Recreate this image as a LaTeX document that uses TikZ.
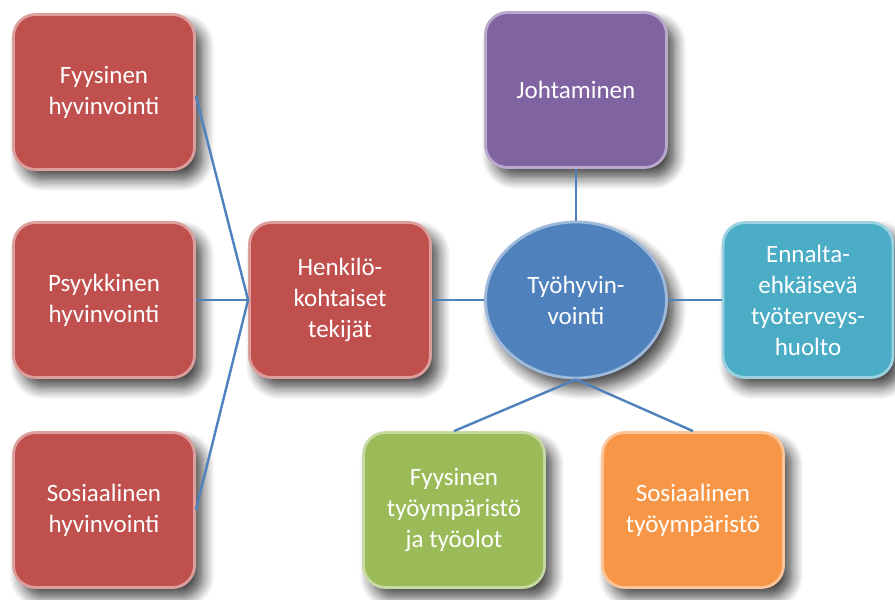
\documentclass[tikz,border=0pt]{standalone}
\usepackage{fontspec}
\setmainfont{Carlito}
\usetikzlibrary{shapes.geometric,shadows.blur}

\definecolor{punainen}{HTML}{C0504D}
\definecolor{violetti}{HTML}{8064A2}
\definecolor{sininen}{HTML}{4F81BD}
\definecolor{turkoosi}{HTML}{4BACC6}
\definecolor{vihrea}{HTML}{9BBB59}
\definecolor{oranssi}{HTML}{F79646}

\begin{document}
\begin{tikzpicture}[x=0.5pt,y=-0.5pt,
    laatikko/.style={rectangle,rounded corners=11pt,fill=#1,draw=#1!55!white,line width=1.4pt,
      minimum width=90.5pt,minimum height=77.5pt,inner sep=2pt,align=center,text=white,
      font=\fontsize{12.5}{15.5}\selectfont,
      blur shadow={shadow xshift=4pt,shadow yshift=-5pt,shadow blur steps=10,shadow blur radius=6pt,shadow opacity=75}},
    pallo/.style={ellipse,fill=sininen,draw=sininen!55!white,line width=1.4pt,
      minimum width=90.5pt,minimum height=78pt,inner sep=0pt,align=center,text=white,
      font=\fontsize{12.5}{15.5}\selectfont,
      blur shadow={shadow xshift=4pt,shadow yshift=-5pt,shadow blur steps=10,shadow blur radius=6pt,shadow opacity=75}},
    yhteys/.style={draw=sininen,line width=1.2pt}]
  \useasboundingbox (0,0) rectangle (895,600);
  % Henkilokohtaiset tekijat
  \node[laatikko=punainen] (fyys) at (104,92) {Fyysinen\\hyvinvointi};
  \node[laatikko=punainen] (psyyk) at (104,300) {Psyykkinen\\hyvinvointi};
  \node[laatikko=punainen] (sos) at (104,510) {Sosiaalinen\\hyvinvointi};
  \node[laatikko=punainen] (henk) at (340,300) {Henkilö-\\kohtaiset\\tekijät};
  % Tyohyvinvointi ja sen osat
  \node[pallo] (tyo) at (576,300) {Työhyvin-\\vointi};
  \node[laatikko=violetti] (joht) at (576,90) {Johtaminen};
  \node[laatikko=turkoosi,minimum width=85pt] (ennalta) at (808,300) {Ennalta-\\ehkäisevä\\työterveys-\\huolto};
  \node[laatikko=vihrea] (fyyt) at (454,510) {Fyysinen\\työympäristö\\ja työolot};
  \node[laatikko=oranssi] (sost) at (693,510) {Sosiaalinen\\työympäristö};
  % viivat
  \draw[yhteys] ([yshift=-2pt]fyys.east) -- (henk.west);
  \draw[yhteys] (psyyk.east) -- (henk.west);
  \draw[yhteys] (sos.east) -- (henk.west);
  \draw[yhteys] (henk.east) -- (tyo.west);
  \draw[yhteys] (joht.south) -- (tyo.north);
  \draw[yhteys] (tyo.east) -- (ennalta.west);
  \draw[yhteys] (tyo.south) -- (fyyt.north);
  \draw[yhteys] (tyo.south) -- (sost.north);
\end{tikzpicture}
\end{document}
